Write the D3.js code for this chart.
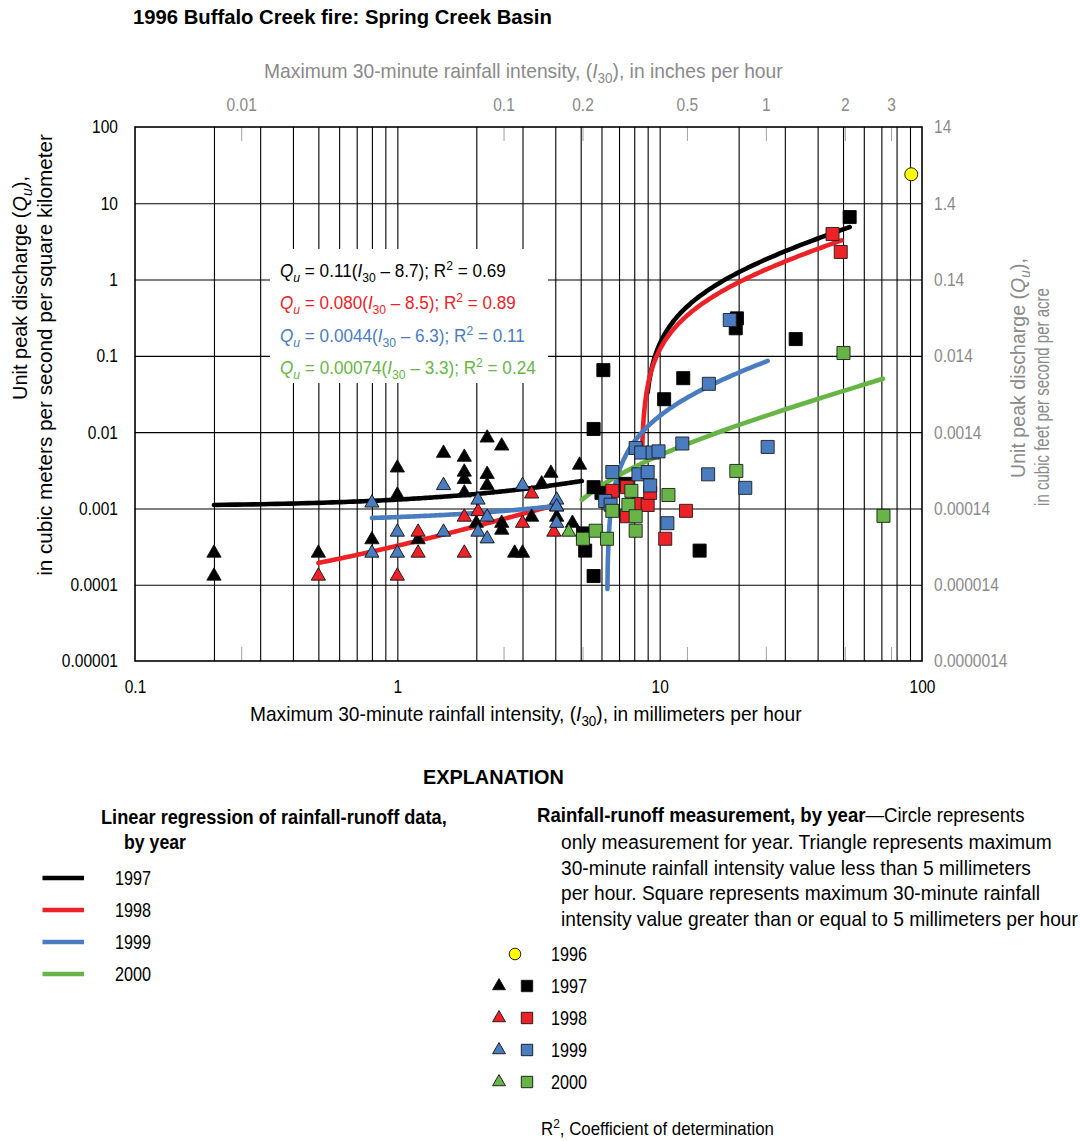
<!DOCTYPE html>
<html>
<head>
<meta charset="utf-8">
<title>1996 Buffalo Creek fire: Spring Creek Basin</title>
<script src="https://cdn.jsdelivr.net/npm/d3@7/dist/d3.min.js"></script>
<style>
  html, body { margin: 0; padding: 0; background: #fff; }
  svg { display: block; }
</style>
</head>
<body>
<svg id="chart" width="1080" height="1141"></svg>
<script>
// ---------------------------------------------------------------------------
// Axis ticks
// ---------------------------------------------------------------------------
const mmTicks = [0.1, 1, 10, 100];
const mmTickLabels = ['0.1', '1', '10', '100'];
const inchTicks = [0.01, 0.1, 0.2, 0.5, 1, 2, 3];
const inchTickLabels = ['0.01', '0.1', '0.2', '0.5', '1', '2', '3'];
const quTicks = [0.00001, 0.0001, 0.001, 0.01, 0.1, 1, 10, 100];
const quTickLabels = ['0.00001', '0.0001', '0.001', '0.01', '0.1', '1', '10', '100'];
const cfsTicks = [0.0000014, 0.000014, 0.00014, 0.0014, 0.014, 0.14, 1.4, 14];
const cfsTickLabels = ['0.0000014', '0.000014', '0.00014', '0.0014', '0.014', '0.14', '1.4', '14'];

// ---------------------------------------------------------------------------
// Rainfall-runoff measurements: [I30 (mm/h), Qu (m3/s/km2)]
// ---------------------------------------------------------------------------
const obs1996 = [[91, 24]];

const tri1997 = [[0.2, 0.00026], [0.2, 0.00013], [0.5, 0.00026], [0.8, 0.00039], [1, 0.0034], [1, 0.0015],
  [1.2, 0.00039], [1.5, 0.0053], [1.8, 0.0047], [1.8, 0.0030], [1.8, 0.0024], [1.8, 0.0016], [2.2, 0.0084],
  [2.5, 0.0066], [2.2, 0.0028], [2.2, 0.0020], [2.0, 0.00064], [2.5, 0.00064], [2.5, 0.00052], [2.8, 0.00026],
  [3.0, 0.00026], [3.25, 0.00077], [3.55, 0.0021], [3.85, 0.0029], [4.05, 0.00105], [4.05, 0.00077],
  [4.65, 0.00064], [4.95, 0.0037]];
const sq1997 = [[5.6, 0.011], [6.1, 0.065], [10.4, 0.027], [12.3, 0.051], [19.7, 0.31], [19.5, 0.23],
  [33, 0.166], [53, 6.6], [5.6, 0.0019], [6.0, 0.0016], [7.4, 0.0021], [5.1, 0.00047], [5.2, 0.00028],
  [5.6, 0.00013], [14.2, 0.00028]];

const tri1998 = [[0.5, 0.00013], [1, 0.00013], [1.2, 0.00049], [1.2, 0.00026], [1.8, 0.00077], [1.8, 0.00026],
  [2.03, 0.00091], [3.0, 0.00064], [3.25, 0.00155], [3.95, 0.00049]];
const sq1998 = [[6.6, 0.0017], [7.5, 0.0019], [8.3, 0.00114], [9.0, 0.00111], [9.2, 0.0016], [12.6, 0.00093],
  [7.5, 0.00079], [10.5, 0.00040], [45.6, 3.96], [49, 2.3]];

const tri1999 = [[0.8, 0.00118], [0.8, 0.00026], [1, 0.00049], [1, 0.00026], [1.5, 0.0020], [1.5, 0.00049],
  [2.03, 0.00129], [2.03, 0.00049], [2.2, 0.00077], [2.2, 0.00040], [3.0, 0.0020], [4.05, 0.00129],
  [4.05, 0.00105], [4.05, 0.00064]];
const sq1999 = [[6.2, 0.00125], [6.5, 0.00112], [6.6, 0.0030], [8.1, 0.0062], [8.5, 0.0054], [9.4, 0.0054],
  [9.9, 0.0056], [8.3, 0.0028], [9.0, 0.0030], [9.2, 0.0020], [12.2, 0.0071], [15.4, 0.043], [15.3, 0.0028],
  [21.2, 0.00186], [25.8, 0.0064], [18.5, 0.295], [10.7, 0.00064]];

const tri2000 = [[4.5, 0.00049]];
const sq2000 = [[5.1, 0.00040], [5.7, 0.00051], [6.3, 0.00040], [6.6, 0.00093], [7.6, 0.00111], [7.8, 0.0017],
  [8.1, 0.00079], [8.1, 0.00051], [10.8, 0.0015], [19.6, 0.0031], [50.2, 0.109], [71.3, 0.0008]];

// ---------------------------------------------------------------------------
// Linear regressions Qu = a (I30 - b), by year
// ---------------------------------------------------------------------------
const years = ['1997', '1998', '1999', '2000'];
const yearColors = ['#000000', '#ec2227', '#4a7cc0', '#67b546'];
const fitSlopeText = ['0.11', '0.080', '0.0044', '0.00074'];
const fitOffsetText = ['8.7', '8.5', '6.3', '3.3'];
const fitR2Text = ['0.69', '0.89', '0.11', '0.24'];
const fitFrom = [9.0, 8.57, 6.32, 5.05];
const fitTo = [53, 49.3, 25.8, 71];
// Fits through the low-intensity (< 5 mm/h) measurements
const lowYears = ['1997', '1998', '1999'];
const lowSlope = [0.000243, 0.000262, 0.0001015];
const lowOffset = [-4.37, -0.237, -6.59];
const lowFrom = [0.2, 0.5, 0.8];
const lowTo = [5.05, 3.88, 4.05];

// ---------------------------------------------------------------------------
// Layout
// ---------------------------------------------------------------------------
const FONT = "'Liberation Sans',Arial,Helvetica,sans-serif";
const GRAY = '#8a8a8a';
const NARROW = 0.84;          // horizontal squeeze for tick numerals
const MM_PER_INCH = 25.4;
const P = { left: 135, right: 922, top: 127, bottom: 661 };

const svg = d3.select('#chart').attr('font-family', FONT);
svg.append('rect').attr('width', 1080).attr('height', 1141).attr('fill', '#fff');

const x = d3.scaleLog().domain([0.1, 100]).range([P.left, P.right]);
const xIn = d3.scaleLog().domain([0.1 / MM_PER_INCH, 100 / MM_PER_INCH]).range([P.left, P.right]);
const y = d3.scaleLog().domain([0.00001, 100]).range([P.bottom, P.top]);
const yCfs = d3.scaleLog().domain([0.0000014, 14]).range([P.bottom, P.top]);

// Horizontally fit a text element to a given width; (tx, ty) is its anchor/baseline point.
function fit(t, tx, ty, w, rotate) {
  const m = t.node().getComputedTextLength();
  const r = rotate ? ` rotate(${rotate})` : '';
  t.attr('transform', `translate(${tx},${ty})${r} scale(${w / m},1)`);
  return t;
}
function txt(parent, size, opts = {}) {
  return parent.append('text')
    .attr('font-size', size)
    .attr('font-weight', opts.bold ? 700 : 400)
    .attr('fill', opts.fill || '#000')
    .attr('text-anchor', opts.anchor || 'start');
}
function span(t, s, opts = {}) {
  const ts = t.append('tspan').text(s);
  if (opts.italic) ts.attr('font-style', 'italic');
  if (opts.bold) ts.attr('font-weight', 700);
  if (opts.size) ts.attr('font-size', opts.size);
  if (opts.dy) ts.attr('dy', opts.dy);
  return ts;
}
function plain(parent, s, size, opts, tx, ty, w, rotate) {
  const t = txt(parent, size, opts);
  span(t, s);
  return fit(t, tx, ty, w, rotate);
}
// Condense the tick labels of an axis group around their own anchor points.
function squeeze(g, k) {
  g.selectAll('.tick text').each(function () {
    const t = d3.select(this);
    const tx = +t.attr('x') || 0, ty = +t.attr('y') || 0;
    t.attr('x', 0).attr('y', 0).attr('transform', `translate(${tx},${ty}) scale(${k},1)`);
  });
}

// ---------------------------------------------------------------------------
// Grid
// ---------------------------------------------------------------------------
const grid = svg.append('g');
grid.append('g')
  .attr('transform', `translate(0,${P.bottom})`)
  .call(d3.axisBottom(x).tickValues(x.ticks().filter(v => v > 0.1001 && v < 99.9))
    .tickSize(-(P.bottom - P.top)).tickFormat(''))
  .call(g => g.select('.domain').remove())
  .call(g => g.selectAll('line').attr('stroke', '#000').attr('stroke-width', 1.1));
grid.append('g')
  .attr('transform', `translate(${P.left},0)`)
  .call(d3.axisLeft(y).tickValues(quTicks.slice(1, -1)).tickSize(-(P.right - P.left)).tickFormat(''))
  .call(g => g.select('.domain').remove())
  .call(g => g.selectAll('line').attr('stroke', '#000').attr('stroke-width', 1.1));

// Inch ticks (top and bottom, inside the frame)
const topAxis = svg.append('g')
  .attr('transform', `translate(0,${P.top})`)
  .call(d3.axisTop(xIn).tickValues(inchTicks).tickSizeInner(-14).tickSizeOuter(0).tickPadding(16)
    .tickFormat((d, i) => inchTickLabels[i]));
topAxis.select('.domain').remove();
topAxis.selectAll('line').attr('stroke', '#a0a0a0').attr('stroke-width', 1);
topAxis.selectAll('text').attr('fill', GRAY).attr('font-size', 18.5).attr('font-family', FONT);
squeeze(topAxis, NARROW);

svg.append('g')
  .attr('transform', `translate(0,${P.bottom})`)
  .call(d3.axisBottom(xIn).tickValues(inchTicks).tickSize(-14).tickFormat(''))
  .call(g => g.select('.domain').remove())
  .call(g => g.selectAll('line').attr('stroke', '#a0a0a0').attr('stroke-width', 1));

// Frame
svg.append('rect')
  .attr('x', P.left).attr('y', P.top)
  .attr('width', P.right - P.left).attr('height', P.bottom - P.top)
  .attr('fill', 'none').attr('stroke', '#000').attr('stroke-width', 1.6);

// Millimetre and discharge axis labels
const bottomAxis = svg.append('g')
  .attr('transform', `translate(0,${P.bottom})`)
  .call(d3.axisBottom(x).tickValues(mmTicks).tickSize(0).tickPadding(19)
    .tickFormat((d, i) => mmTickLabels[i]));
bottomAxis.select('.domain').remove();
bottomAxis.selectAll('text').attr('fill', '#000').attr('font-size', 18.5).attr('font-family', FONT);
squeeze(bottomAxis, NARROW);

const leftAxis = svg.append('g')
  .attr('transform', `translate(${P.left},0)`)
  .call(d3.axisLeft(y).tickValues(quTicks).tickSize(0).tickPadding(17)
    .tickFormat((d, i) => quTickLabels[i]));
leftAxis.select('.domain').remove();
leftAxis.selectAll('text').attr('fill', '#000').attr('font-size', 18.5).attr('font-family', FONT);
squeeze(leftAxis, NARROW);

const rightAxis = svg.append('g')
  .attr('transform', `translate(${P.right},0)`)
  .call(d3.axisRight(yCfs).tickValues(cfsTicks).tickSize(0).tickPadding(12)
    .tickFormat((d, i) => cfsTickLabels[i]));
rightAxis.select('.domain').remove();
rightAxis.selectAll('text').attr('fill', GRAY).attr('font-size', 18.5).attr('font-family', FONT);
squeeze(rightAxis, NARROW);

// ---------------------------------------------------------------------------
// Regression curves
// ---------------------------------------------------------------------------
const line = d3.line().x(d => x(d[0])).y(d => y(d[1]));
function fitCurve(a, b, from, to) {
  const u0 = Math.log(from - b), u1 = Math.log(to - b);
  return d3.range(0, 161).map(i => {
    const I = b + Math.exp(u0 + (u1 - u0) * i / 160);
    return [I, a * (I - b)];
  });
}
const curves = svg.append('g').attr('fill', 'none').attr('stroke-width', 4.6).attr('stroke-linecap', 'round');
lowYears.forEach((yr, i) => {
  curves.append('path')
    .attr('d', line(fitCurve(lowSlope[i], lowOffset[i], lowFrom[i], lowTo[i])))
    .attr('stroke', yearColors[years.indexOf(yr)]);
});
years.forEach((yr, i) => {
  curves.append('path')
    .attr('d', line(fitCurve(+fitSlopeText[i], +fitOffsetText[i], fitFrom[i], fitTo[i])))
    .attr('stroke', yearColors[i]);
});

// ---------------------------------------------------------------------------
// Regression equations
// ---------------------------------------------------------------------------
svg.append('rect').attr('x', 270).attr('y', 249).attr('width', 278).attr('height', 134).attr('fill', '#fff');
const eqWidths = [226, 236, 245, 256];
const eqBase = [277, 309, 342, 374];
years.forEach((yr, i) => {
  const t = txt(svg, 19, { fill: yearColors[i] });
  span(t, 'Q', { italic: true });
  span(t, 'u', { italic: true, size: 13.5, dy: 5 });
  span(t, ` = ${fitSlopeText[i]}(`, { dy: -5 });
  span(t, 'I', { italic: true });
  span(t, '30', { size: 13.5, dy: 5 });
  span(t, ` \u2013 ${fitOffsetText[i]}); R`, { dy: -5 });
  span(t, '2', { size: 13.5, dy: -7 });
  span(t, ` = ${fitR2Text[i]}`, { dy: 7 });
  fit(t, 280, eqBase[i], eqWidths[i]);
});

// ---------------------------------------------------------------------------
// Measurements
// ---------------------------------------------------------------------------
const TRI = d3.symbol().type(d3.symbolTriangle).size(88);
const SQR = d3.symbol().type(d3.symbolSquare).size(170);
const pts = svg.append('g');
const triSets = [tri1997, tri1998, tri1999, tri2000];
const sqSets = [sq1997, sq1998, sq1999, sq2000];
years.forEach((yr, i) => {
  pts.append('g').selectAll('path').data(triSets[i]).join('path')
    .attr('d', TRI)
    .attr('transform', d => `translate(${x(d[0])},${y(d[1])})`)
    .attr('fill', yearColors[i]).attr('stroke', '#111').attr('stroke-width', 0.9);
});
years.forEach((yr, i) => {
  pts.append('g').selectAll('path').data(sqSets[i]).join('path')
    .attr('d', SQR)
    .attr('transform', d => `translate(${x(d[0])},${y(d[1])})`)
    .attr('fill', yearColors[i]).attr('stroke', i === 0 ? '#000' : '#1e1e1e').attr('stroke-width', 0.9);
});
pts.append('g').selectAll('circle').data(obs1996).join('circle')
  .attr('cx', d => x(d[0])).attr('cy', d => y(d[1])).attr('r', 6.5)
  .attr('fill', '#ffff00').attr('stroke', '#222').attr('stroke-width', 1);

// ---------------------------------------------------------------------------
// Titles
// ---------------------------------------------------------------------------
plain(svg, '1996 Buffalo Creek fire: Spring Creek Basin', 20, { bold: true }, 133, 24, 419);

function intensityTitle(fill, unit) {
  const t = txt(svg, 20, { fill });
  span(t, 'Maximum 30-minute rainfall intensity, (');
  span(t, 'I', { italic: true });
  span(t, '30', { size: 14, dy: 5 });
  span(t, `), in ${unit} per hour`, { dy: -5 });
  return t;
}
fit(intensityTitle(GRAY, 'inches'), 264, 78, 519);
fit(intensityTitle('#000', 'millimeters'), 250, 721, 552);

function dischargeTitle(fill) {
  const t = txt(svg, 20, { fill, anchor: 'middle' });
  span(t, 'Unit peak discharge (');
  span(t, 'Q', { italic: true });
  span(t, 'u', { italic: true, size: 14, dy: 5 });
  span(t, '),', { dy: -5 });
  return t;
}
fit(dischargeTitle('#000'), 27, 288, 224, -90);
plain(svg, 'in cubic meters per second per square kilometer', 20, { anchor: 'middle' }, 52, 355, 442, -90);
fit(dischargeTitle(GRAY), 1025, 368, 220, -90);
plain(svg, 'in cubic feet per second per acre', 20, { fill: GRAY, anchor: 'middle' }, 1049, 397, 218, -90);

// ---------------------------------------------------------------------------
// Explanation
// ---------------------------------------------------------------------------
const leg = svg.append('g');
plain(leg, 'EXPLANATION', 20, { bold: true }, 423, 784, 141);
plain(leg, 'Linear regression of rainfall-runoff data,', 20, { bold: true }, 101, 824, 346);
plain(leg, 'by year', 20, { bold: true }, 124, 849, 62);

const lineRows = [878, 910, 942, 974];
years.forEach((yr, i) => {
  leg.append('line').attr('x1', 42.5).attr('x2', 84).attr('y1', lineRows[i]).attr('y2', lineRows[i])
    .attr('stroke', yearColors[i]).attr('stroke-width', 4.6);
  plain(leg, yr, 20, {}, 115, lineRows[i] + 7, 36);
});

const head = txt(leg, 20);
span(head, 'Rainfall-runoff measurement, by year', { bold: true });
span(head, '\u2014Circle represents');
fit(head, 537, 822, 488);
const noteLines = [
  'only measurement for year. Triangle represents maximum',
  '30-minute rainfall intensity value less than 5 millimeters',
  'per hour. Square represents maximum 30-minute rainfall',
  'intensity value greater than or equal to 5 millimeters per hour'
];
const noteWidths = [491, 470, 479, 517];
const noteBase = [849, 875, 900, 926];
noteLines.forEach((s, i) => plain(leg, s, 20, {}, 561, noteBase[i], noteWidths[i]));

leg.append('circle').attr('cx', 515).attr('cy', 954).attr('r', 5.8)
  .attr('fill', '#ffff00').attr('stroke', '#222').attr('stroke-width', 1);
plain(leg, '1996', 20, {}, 551, 961, 36);
const symRows = [986, 1018, 1050, 1082];
const TRI_L = d3.symbol().type(d3.symbolTriangle).size(72);
const SQR_L = d3.symbol().type(d3.symbolSquare).size(130);
years.forEach((yr, i) => {
  leg.append('path').attr('d', TRI_L).attr('transform', `translate(499,${symRows[i]})`)
    .attr('fill', yearColors[i]).attr('stroke', '#111').attr('stroke-width', 0.9);
  leg.append('path').attr('d', SQR_L).attr('transform', `translate(527,${symRows[i]})`)
    .attr('fill', yearColors[i]).attr('stroke', '#111').attr('stroke-width', 0.9);
  plain(leg, yr, 20, {}, 551, symRows[i] + 7, 36);
});

const r2 = txt(leg, 18.5);
span(r2, 'R');
span(r2, '2', { size: 13, dy: -7 });
span(r2, ', Coefficient of determination', { dy: 7 });
fit(r2, 541, 1135, 233);
</script>
</body>
</html>
